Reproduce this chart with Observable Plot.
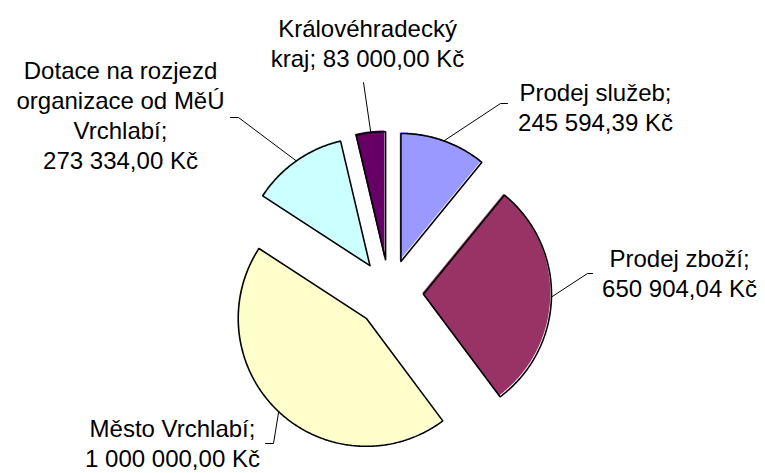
<!DOCTYPE html>
<html><head><meta charset="utf-8">
<script src="https://cdn.jsdelivr.net/npm/d3@7"></script>
<script src="https://cdn.jsdelivr.net/npm/@observablehq/plot@0.6"></script>
<style>body{margin:0;background:#fff} svg text{font-family:"Liberation Sans",Arial,sans-serif}</style>
</head><body><div id="chart"></div>
<script>
// ---- data ----
const categories = ["Prodej služeb", "Prodej zboží", "Město Vrchlabí", "Dotace na rozjezd organizace od MěÚ Vrchlabí", "Královéhradecký kraj"];
const values = [245594.39, 650904.04, 1000000.00, 273334.00, 83000.00];
const valueLabels = ["245 594,39 Kč", "650 904,04 Kč", "1 000 000,00 Kč", "273 334,00 Kč", "83 000,00 Kč"];
const labelLines = [
  ["Prodej služeb;", "245 594,39 Kč"],
  ["Prodej zboží;", "650 904,04 Kč"],
  ["Město Vrchlabí;", "1 000 000,00 Kč"],
  ["Dotace na rozjezd", "organizace od MěÚ", "Vrchlabí;", "273 334,00 Kč"],
  ["Královéhradecký", "kraj; 83 000,00 Kč"]
];
const colors = ["#9999FF", "#993366", "#FFFFCC", "#CCFFFF", "#660066"];

// ---- layout (pixels) ----
const W = 765, H = 473;
const center = [389, 293], R = 128, explode = 34;
const labelPos = [[595, 106], [679, 272], [172, 442], [120, 114], [367, 42]];
const leaderElbow = [[500, 103], [587, 273], [273, 443], [238, 117], [363, 82]];
const leaderEnd = [[507, 103], [592, 273], [265, 443], [230, 117], [363, 82]];

const arcs = d3.pie().sort(null).value(d => d)(values);

const marks = [];
const labels = [];
const leaders = [];
arcs.forEach((a, i) => {
  const mid = (a.startAngle + a.endAngle) / 2;
  const cx = center[0] + explode * Math.sin(mid);
  const cy = center[1] - explode * Math.cos(mid);
  const n = Math.max(2, Math.ceil((a.endAngle - a.startAngle) / 0.01) + 1);
  const pts = [{x: cx, y: cy}];
  for (let k = 0; k < n; k++) {
    const t = a.startAngle + (a.endAngle - a.startAngle) * k / (n - 1);
    pts.push({x: cx + R * Math.sin(t), y: cy - R * Math.cos(t)});
  }
  pts.push({x: cx, y: cy});
  marks.push(Plot.line(pts, {x: "x", y: "y", fill: colors[i], stroke: "none", dx: -1.2, dy: -1.2}));
  marks.push(Plot.line(pts, {x: "x", y: "y", fill: "none", stroke: "black", strokeWidth: 1.6, strokeLinejoin: "miter"}));
  const sx = cx + R * Math.sin(mid), sy = cy - R * Math.cos(mid);
  leaders.push({id: i, x: sx, y: sy}, {id: i, x: leaderElbow[i][0], y: leaderElbow[i][1]}, {id: i, x: leaderEnd[i][0], y: leaderEnd[i][1]});
  labels.push({x: labelPos[i][0], y: labelPos[i][1], text: labelLines[i].join("\n"), cat: categories[i], value: values[i]});
});

marks.push(Plot.line(leaders, {x: "x", y: "y", z: "id", stroke: "black", strokeWidth: 1}));
marks.push(Plot.text(labels, {x: "x", y: "y", text: "text", fontSize: 24, lineHeight: 1.25, textAnchor: "middle", lineAnchor: "middle", fill: "black", fontFamily: "Liberation Sans"}));

const chart = Plot.plot({
  width: W, height: H,
  marginTop: 0, marginRight: 0, marginBottom: 0, marginLeft: 0,
  x: {domain: [0, W], range: [0, W], axis: null},
  y: {domain: [0, H], range: [0, H], axis: null},
  style: {background: "#fff", overflow: "visible"},
  marks
});
document.getElementById("chart").appendChild(chart);
</script>
</body></html>
